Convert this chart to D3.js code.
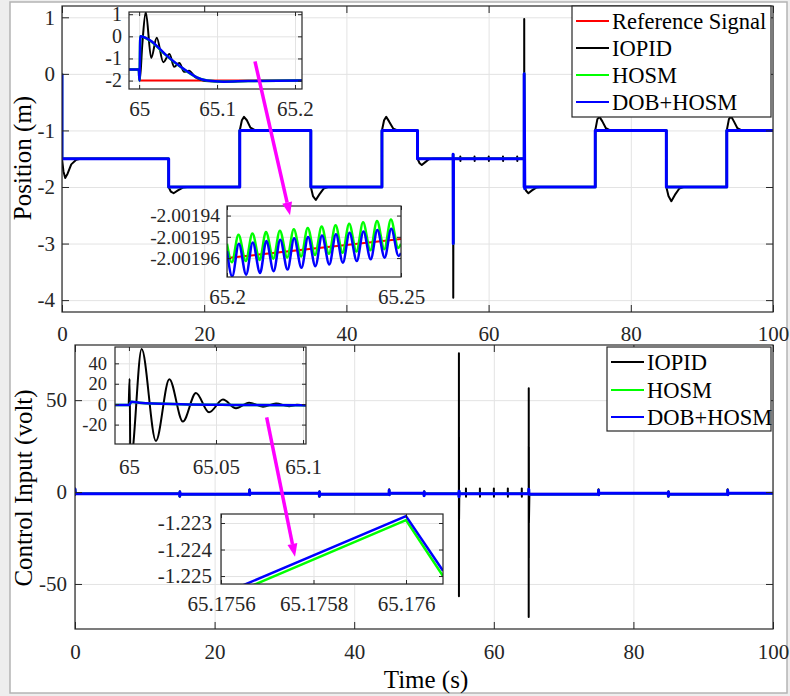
<!DOCTYPE html>
<html>
<head>
<meta charset="utf-8">
<script src="https://d3js.org/d3.v7.min.js"></script>
<style>
body { margin: 0; background: #fff; }
svg text { font-family: "Liberation Serif", "Times New Roman", Times, "DejaVu Serif", serif !important; }
</style>
</head>
<body>
<svg id="fig" width="790" height="696"></svg>
<script>
// ---------- data ----------
var timeTicks = [0, 20, 40, 60, 80, 100];
var posTicks = [-4, -3, -2, -1, 0, 1];
var ctlTicks = [-50, 0, 50];

// position, full run
var posRef = [[0,0],[0,-1.5],[15,-1.5],[15,-2],[25,-2],[25,-1],[35,-1],[35,-2],[45,-2],[45,-1],
  [50,-1],[50,-1.5],[65,-1.5],[65,-2],[75,-2],[75,-1],[85,-1],[85,-2],[93.5,-2],[93.5,-1],[100,-1]];
var posPID = [[0,0],[0,-1.5],[0.2,-1.72],[0.45,-1.84],[0.8,-1.76],[1.3,-1.6],[2,-1.52],[2.6,-1.5],
  [15,-1.5],[15,-2],[15.3,-2.08],[15.7,-2.11],[16.3,-2.06],[17,-2.01],[17.6,-2],
  [25,-2],[25,-1],[25.3,-0.82],[25.6,-0.76],[26,-0.82],[26.5,-0.95],[27.2,-1],
  [35,-1],[35,-2],[35.3,-2.16],[35.7,-2.23],[36.2,-2.13],[36.8,-2.03],[37.4,-2],
  [45,-2],[45,-1],[45.3,-0.82],[45.6,-0.76],[46,-0.84],[46.6,-0.97],[47.2,-1],
  [50,-1],[50,-1.5],[50.3,-1.58],[50.6,-1.61],[51.1,-1.56],[51.6,-1.51],[52.2,-1.5],
  [55,-1.5],[55.01,-1.42],[55.03,-3.96],[55.06,-1.5],
  [56,-1.5],[56.02,-1.46],[56.04,-1.54],[56.06,-1.5],[58,-1.5],[58.02,-1.46],[58.04,-1.54],[58.06,-1.5],
  [60,-1.5],[60.02,-1.46],[60.04,-1.54],[60.06,-1.5],[62,-1.5],[62.02,-1.46],[62.04,-1.54],[62.06,-1.5],
  [64,-1.5],[64.02,-1.46],[64.04,-1.54],[64.06,-1.5],
  [65,-1.5],[65.01,0.97],[65.03,-2],[65.3,-2.07],[65.6,-2.11],[66.1,-2.06],[66.7,-2.01],[67.3,-2],
  [75,-2],[75,-1],[75.3,-0.8],[75.6,-0.76],[76,-0.84],[76.5,-0.96],[77.1,-1],
  [85,-1],[85,-2],[85.3,-2.16],[85.7,-2.25],[86.2,-2.14],[86.8,-2.03],[87.4,-2],
  [93.5,-2],[93.5,-1],[93.8,-0.8],[94.1,-0.75],[94.5,-0.84],[95,-0.96],[95.6,-1],[100,-1]];
var posHOSM = [[0,0],[0,-1.5],[15,-1.5],[15,-2],[25,-2],[25,-1],[35,-1],[35,-2],[45,-2],[45,-1],
  [50,-1],[50,-1.5],[55,-1.5],[55.01,-1.42],[55.03,-3],[55.06,-1.5],[65,-1.5],[65.001,-2],[65.002,0],
  [65.09,-2.03],[65.2,-2],[75,-2],[75,-1],[85,-1],[85,-2],[93.5,-2],[93.5,-1],[100,-1]];
var posDOB = [[0,0],[0,-1.5],[15,-1.5],[15,-2],[25,-2],[25,-1],[35,-1],[35,-2],[45,-2],[45,-1],
  [50,-1],[50,-1.5],[55,-1.5],[55.01,-1.42],[55.03,-3],[55.06,-1.5],[65,-1.5],[65.001,-2],[65.002,0],
  [65.09,-2.03],[65.2,-2],[75,-2],[75,-1],[85,-1],[85,-2],[93.5,-2],[93.5,-1],[100,-1]];

// position, zoom 65 .. 65.2
var zoomA_xTicks = [65, 65.1, 65.2];
var zoomA_yTicks = [-2, -1, 0, 1];
var zoomA_ref = [[64.987,-1.5],[64.9995,-1.5],[65.0005,-2],[65.209,-2]];
var zoomA_pid = [[64.987,-1.5],[64.9995,-1.5],[65.0008,-2],[65.004,-0.4],[65.0085,1.1],[65.0155,-0.98],
  [65.0226,-0.06],[65.031,-1.17],[65.0389,-0.8],[65.045,-1.38],[65.0516,-1.2],[65.0577,-1.6],
  [65.064,-1.55],[65.072,-1.85],[65.08,-1.97],[65.09,-2.03],[65.11,-2.05],[65.14,-2.02],[65.209,-2.0]];
var zoomA_hosm = [[64.987,-1.5],[64.9995,-1.5],[65.0005,-2],[65.0015,0],[65.014,-0.2],[65.035,-0.87],
  [65.057,-1.48],[65.074,-1.85],[65.087,-2.0],[65.108,-2.05],[65.14,-2.02],[65.209,-2.0]];
var zoomA_dob = [[64.987,-1.5],[64.9995,-1.5],[65.0005,-2],[65.0015,0],[65.014,-0.18],[65.035,-0.86],
  [65.057,-1.47],[65.074,-1.85],[65.087,-2.0],[65.108,-2.05],[65.14,-2.02],[65.209,-2.0]];

// position, zoom 65.2 .. 65.25
var zoomB_xTicks = [65.2, 65.25];
var zoomB_yTicks = [-2.00196, -2.00195, -2.00194];
var zoomB_ref = [[65.2,-2.0019600],[65.25,-2.0019510]];
var zoomB_hosm = [[65.2,-2.0019533],[65.2014,-2.0019620],[65.2033,-2.0019490],[65.2054,-2.0019614],
  [65.2073,-2.0019484],[65.2094,-2.0019609],[65.2112,-2.0019477],[65.2133,-2.0019603],[65.2152,-2.0019471],
  [65.2173,-2.0019597],[65.2192,-2.0019464],[65.2213,-2.0019592],[65.2232,-2.0019458],[65.2253,-2.0019586],
  [65.2272,-2.0019451],[65.2293,-2.0019580],[65.2312,-2.0019445],[65.2332,-2.0019575],[65.2351,-2.0019438],
  [65.2372,-2.0019569],[65.2391,-2.0019432],[65.2412,-2.0019563],[65.2431,-2.0019425],[65.2452,-2.0019558],
  [65.2471,-2.0019419],[65.2492,-2.0019552],[65.25,-2.0019533]];
var zoomB_dob = [[65.2,-2.0019567],[65.2015,-2.0019686],[65.2034,-2.0019533],[65.2055,-2.0019678],
  [65.2074,-2.0019527],[65.2095,-2.0019670],[65.2113,-2.0019520],[65.2134,-2.0019662],[65.2153,-2.0019514],
  [65.2174,-2.0019654],[65.2193,-2.0019507],[65.2214,-2.0019646],[65.2233,-2.0019501],[65.2254,-2.0019638],
  [65.2273,-2.0019494],[65.2294,-2.0019630],[65.2313,-2.0019488],[65.2333,-2.0019622],[65.2352,-2.0019481],
  [65.2373,-2.0019614],[65.2392,-2.0019475],[65.2413,-2.0019606],[65.2432,-2.0019468],[65.2453,-2.0019598],
  [65.2472,-2.0019462],[65.2493,-2.0019590],[65.25,-2.0019576]];

// control input, full run
var ctlPID = [[0,0],[0.01,2],[0.03,-1.5],[0.06,-0.9],[15,-0.9],[15.01,-2.5],[15.03,0.5],[15.06,-1.22],
  [25,-1.22],[25.01,1.5],[25.03,-1.5],[25.06,-0.61],[35,-0.61],[35.01,-2.5],[35.03,0.5],[35.06,-1.22],
  [45,-1.22],[45.01,1.5],[45.03,-1.5],[45.06,-0.61],[50,-0.61],[50.01,-2],[50.03,0.5],[50.06,-0.92],
  [55,-0.92],[55.003,75.5],[55.008,-56.7],[55.014,30],[55.02,-15],[55.06,-0.92],
  [56,-0.92],[56.01,2],[56.02,-2.5],[56.03,-0.92],[58,-0.92],[58.01,2],[58.02,-2.5],[58.03,-0.92],
  [60,-0.92],[60.01,2],[60.02,-2.5],[60.03,-0.92],[62,-0.92],[62.01,2],[62.02,-2.5],[62.03,-0.92],
  [64,-0.92],[64.01,2],[64.02,-2.5],[64.03,-0.92],
  [65,-0.92],[65.0004,25],[65.0009,-68],[65.0073,56.5],[65.0155,-36],[65.0232,24.5],[65.031,-17],[65.1,-1.22],
  [75,-1.22],[75.01,1.5],[75.03,-1.5],[75.06,-0.61],[85,-0.61],[85.01,-2.5],[85.03,0.5],[85.06,-1.22],
  [93.5,-1.22],[93.51,1.5],[93.53,-1.5],[93.56,-0.61],[100,-0.61]];
var ctlHOSM = [[0,0],[0.01,1.5],[0.05,-0.9],[15,-0.9],[15.01,-2.2],[15.03,0],[15.05,-1.22],[25,-1.22],[25.01,1],
  [25.03,-1.5],[25.05,-0.61],[35,-0.61],[35.01,-2.2],[35.03,0],[35.05,-1.22],[45,-1.22],[45.01,1],[45.03,-1.5],
  [45.05,-0.61],[50,-0.61],[50.01,-2],[50.03,0],[50.05,-0.92],[55,-0.92],[55.01,-2.5],[55.03,0.5],[55.05,-0.92],
  [65,-0.92],[65.01,1.5],[65.03,-1],[65.1,-1.22],[75,-1.22],[75.01,1],[75.03,-1.5],[75.05,-0.61],[85,-0.61],
  [85.01,-2.2],[85.03,0],[85.05,-1.22],[93.5,-1.22],[93.51,1],[93.53,-1.5],[93.55,-0.61],[100,-0.61]];
var ctlDOB = [[0,0],[0.01,1.5],[0.05,-0.9],[15,-0.9],[15.01,-2.2],[15.03,0],[15.05,-1.22],[25,-1.22],[25.01,1],
  [25.03,-1.5],[25.05,-0.61],[35,-0.61],[35.01,-2.2],[35.03,0],[35.05,-1.22],[45,-1.22],[45.01,1],[45.03,-1.5],
  [45.05,-0.61],[50,-0.61],[50.01,-2],[50.03,0],[50.05,-0.92],[55,-0.92],[55.01,-2.5],[55.03,0.5],[55.05,-0.92],
  [65,-0.92],[65.01,1.5],[65.03,-1],[65.1,-1.22],[75,-1.22],[75.01,1],[75.03,-1.5],[75.05,-0.61],[85,-0.61],
  [85.01,-2.2],[85.03,0],[85.05,-1.22],[93.5,-1.22],[93.51,1],[93.53,-1.5],[93.55,-0.61],[100,-0.61]];

// control input, zoom 65 .. 65.1
var zoomC_xTicks = [65, 65.05, 65.1];
var zoomC_yTicks = [-20, 0, 20, 40];
var zoomC_pid = [[64.992,-0.9],[64.9998,-0.9],[65.0004,25],[65.0009,-68],[65.0025,-40],[65.0073,54],
  [65.0155,-36],[65.0232,24.5],[65.031,-17],[65.0385,11],[65.046,-8],[65.054,4.5],[65.0615,-4],
  [65.069,1.5],[65.077,-2.5],[65.0845,0.7],[65.092,-2],[65.0965,-0.6],[65.1017,-1.2]];
var zoomC_hosm = [[64.992,-0.9],[65,-0.9],[65.0015,2.5],[65.006,1.5],[65.03,0],[65.06,-0.7],[65.1017,-1.1]];
var zoomC_dob = [[64.992,-0.9],[65,-0.9],[65.0015,2.5],[65.006,1.5],[65.03,0],[65.06,-0.7],[65.1017,-1.1]];

// control input, zoom 65.1756 .. 65.176
var zoomD_xTicks = [65.1756, 65.1758, 65.176];
var zoomD_yTicks = [-1.225, -1.224, -1.223];
var zoomD_hosm = [[65.1756,-1.22586],[65.1760,-1.22289],[65.17608,-1.2250]];
var zoomD_dob = [[65.1756,-1.2257],[65.1760,-1.22274],[65.17608,-1.2248]];

// ---------- drawing ----------
var SERIF = "'Liberation Serif', 'Times New Roman', Times, 'DejaVu Serif', serif";
var svg = d3.select("#fig");
var AX = "#262626", GRID = "#e3e3e3";
var fmt = function(d) { return String(d); };
var clipN = 0;

svg.append("rect").attr("width", 790).attr("height", 696).attr("fill", "#eeeeee");
svg.append("rect").attr("x", 10).attr("y", 2).attr("width", 777).attr("height", 691)
  .attr("fill", "#fff").attr("stroke", "#b4b4b4").attr("stroke-width", 1.5);

// drop the empty labels that tick-only / grid axes leave behind
function noLabels(a) { a.selectAll("text").remove(); }

function panel(o) {
  var x = d3.scaleLinear().domain(o.xd).range([o.l, o.r]);
  var y = d3.scaleLinear().domain(o.yd).range([o.b, o.t]);
  var g = svg.append("g");
  var w = o.r - o.l, h = o.b - o.t;
  g.append("rect").attr("x", o.l).attr("y", o.t).attr("width", w).attr("height", h).attr("fill", "#fff");

  // grid
  g.append("g").attr("transform", "translate(0," + o.b + ")")
    .call(d3.axisBottom(x).tickValues(o.xt).tickSize(-h).tickFormat(""))
    .call(function(a) { a.select(".domain").remove(); a.selectAll("line").attr("stroke", GRID); })
    .call(noLabels);
  g.append("g").attr("transform", "translate(" + o.l + ",0)")
    .call(d3.axisLeft(y).tickValues(o.yt).tickSize(-w).tickFormat(""))
    .call(function(a) { a.select(".domain").remove(); a.selectAll("line").attr("stroke", GRID); })
    .call(noLabels);

  var id = "clip" + (clipN++);
  svg.append("clipPath").attr("id", id).append("rect")
    .attr("x", o.l).attr("y", o.t).attr("width", w).attr("height", h);
  var plot = g.append("g").attr("clip-path", "url(#" + id + ")");

  var line = d3.line().x(function(d) { return x(d[0]); }).y(function(d) { return y(d[1]); })
    .curve(o.curve || d3.curveLinear);
  o.series.forEach(function(s) {
    plot.append("path").datum(s.data).attr("fill", "none")
      .attr("stroke", s.color).attr("stroke-width", s.w).attr("stroke-linejoin", "round")
      .attr("d", line);
  });

  // axes, MATLAB style: inward ticks on all four sides
  var tk = o.tk;
  function styler(fs) {
    return function(a) {
      a.select(".domain").remove();
      a.attr("color", AX).attr("font-family", SERIF).attr("font-size", fs);
      a.selectAll("line").attr("stroke-width", 1);
    };
  }
  var sx = styler(o.fs), sy = styler(o.fsy || o.fs);
  g.append("g").attr("transform", "translate(0," + o.b + ")")
    .call(d3.axisBottom(x).tickValues(o.xt).tickSize(-tk).tickPadding(o.px).tickFormat(fmt)).call(sx);
  g.append("g").attr("transform", "translate(0," + o.t + ")")
    .call(d3.axisTop(x).tickValues(o.xt).tickSize(-tk).tickFormat("")).call(sx).call(noLabels);
  g.append("g").attr("transform", "translate(" + o.l + ",0)")
    .call(d3.axisLeft(y).tickValues(o.yt).tickSize(-tk).tickPadding(o.py).tickFormat(fmt)).call(sy);
  g.append("g").attr("transform", "translate(" + o.r + ",0)")
    .call(d3.axisRight(y).tickValues(o.yt).tickSize(-tk).tickFormat("")).call(sy).call(noLabels);
  g.append("rect").attr("x", o.l).attr("y", o.t).attr("width", w).attr("height", h)
    .attr("fill", "none").attr("stroke", AX).attr("stroke-width", o.bw || 1.2);
  return {x: x, y: y};
}

function arrow(p, a, b) {
  var x1 = p.x(a[0]), y1 = p.y(a[1]), x2 = p.x(b[0]), y2 = p.y(b[1]);
  var dx = x2 - x1, dy = y2 - y1, L = Math.sqrt(dx * dx + dy * dy);
  var ux = dx / L, uy = dy / L, hl = 13, hw = 5;
  var bx = x2 - ux * hl, by = y2 - uy * hl;
  svg.append("line").attr("x1", x1).attr("y1", y1).attr("x2", bx).attr("y2", by)
    .attr("stroke", "#ff00ff").attr("stroke-width", 3.5);
  svg.append("path").attr("fill", "#ff00ff")
    .attr("d", "M" + x2 + "," + y2 + "L" + (bx - uy * hw) + "," + (by + ux * hw) + "L" + (bx + uy * hw) + "," + (by - ux * hw) + "Z");
}

function legend(x0, y0, x1, y1, items, rowY) {
  svg.append("rect").attr("x", x0).attr("y", y0).attr("width", x1 - x0).attr("height", y1 - y0)
    .attr("fill", "#fff").attr("stroke", AX).attr("stroke-width", 1.2);
  items.forEach(function(it, i) {
    svg.append("line").attr("x1", x0 + 4).attr("x2", x0 + 37).attr("y1", rowY[i]).attr("y2", rowY[i])
      .attr("stroke", it.color).attr("stroke-width", 2);
    svg.append("text").attr("x", x0 + 40).attr("y", rowY[i]).attr("dy", "0.35em")
      .attr("font-size", 22.5).attr("fill", "#000").text(it.name);
  });
}

// top: position
var pTop = panel({l: 62, r: 773, t: 6, b: 312, xd: [0, 100], yd: [-4.21, 1.2], xt: timeTicks, yt: posTicks,
  tk: 7, px: 14, py: 7, fs: 21,
  series: [{data: posRef, color: "#ff0000", w: 2}, {data: posPID, color: "#000", w: 2},
           {data: posHOSM, color: "#00ff00", w: 2.5}, {data: posDOB, color: "#0000ff", w: 3}]});

panel({l: 129, r: 302, t: 12, b: 89, xd: [64.987, 65.209], yd: [-2.38, 1.1], xt: zoomA_xTicks, yt: zoomA_yTicks,
  tk: 4, px: 12, py: 7, fs: 21, fsy: 20, curve: d3.curveMonotoneX,
  series: [{data: zoomA_ref, color: "#ff0000", w: 2}, {data: zoomA_pid, color: "#000", w: 2},
           {data: zoomA_hosm, color: "#00ff00", w: 2.5}, {data: zoomA_dob, color: "#0000ff", w: 2.5}]});

panel({l: 227, r: 401, t: 206, b: 277, xd: [65.2, 65.25], yd: [-2.0019689, -2.0019355], xt: zoomB_xTicks, yt: zoomB_yTicks,
  tk: 4, px: 12, py: 7, fs: 21, fsy: 19.5, curve: d3.curveMonotoneX,
  series: [{data: zoomB_ref, color: "#ff0000", w: 2}, {data: zoomB_hosm, color: "#00ff00", w: 2.5},
           {data: zoomB_dob, color: "#0000ff", w: 2.5}]});

legend(572, 6, 771, 117,
  [{name: "Reference Signal", color: "#ff0000"}, {name: "IOPID", color: "#000"},
   {name: "HOSM", color: "#00ff00"}, {name: "DOB+HOSM", color: "#0000ff"}], [21, 48, 75, 102]);

arrow(pTop, [27.14, 0.22], [32.07, -2.5]);

svg.append("text").attr("transform", "translate(22,158) rotate(-90)").attr("text-anchor", "middle")
  .attr("dy", "0.35em").attr("font-size", 25).attr("fill", "#000").text("Position (m)");

// bottom: control input
var pBot = panel({l: 75, r: 773, t: 345, b: 629, xd: [0, 100], yd: [-74.5, 80], xt: timeTicks, yt: ctlTicks,
  tk: 7, px: 15, py: 8, fs: 21,
  series: [{data: ctlPID, color: "#000", w: 2}, {data: ctlHOSM, color: "#00ff00", w: 2.5},
           {data: ctlDOB, color: "#0000ff", w: 3}]});

panel({l: 115, r: 306, t: 347, b: 444, xd: [64.992, 65.1017], yd: [-39, 56], xt: zoomC_xTicks, yt: zoomC_yTicks,
  tk: 4, px: 15, py: 8, fs: 21, fsy: 18.5, curve: d3.curveMonotoneX,
  series: [{data: zoomC_pid, color: "#000", w: 2}, {data: zoomC_hosm, color: "#00ff00", w: 2.5},
           {data: zoomC_dob, color: "#0000ff", w: 2.5}]});

panel({l: 221, r: 443, t: 514, b: 584, xd: [65.1756, 65.17608], yd: [-1.2253, -1.22266], xt: zoomD_xTicks, yt: zoomD_yTicks,
  tk: 4, px: 12, py: 9, fs: 21,
  series: [{data: zoomD_hosm, color: "#00ff00", w: 2.5}, {data: zoomD_dob, color: "#0000ff", w: 2.5}]});

legend(607, 347, 771, 431,
  [{name: "IOPID", color: "#000"}, {name: "HOSM", color: "#00ff00"}, {name: "DOB+HOSM", color: "#0000ff"}],
  [362, 390, 417]);

arrow(pBot, [27.46, 40.6], [31.52, -35.2]);

svg.append("text").attr("transform", "translate(23,488) rotate(-90)").attr("text-anchor", "middle")
  .attr("dy", "0.35em").attr("font-size", 25).attr("fill", "#000").text("Control Input (volt)");
svg.append("text").attr("x", 426).attr("y", 679).attr("text-anchor", "middle")
  .attr("dy", "0.35em").attr("font-size", 25).attr("fill", "#000").text("Time (s)");

svg.selectAll("text").style("font-family", SERIF);
</script>
</body>
</html>
